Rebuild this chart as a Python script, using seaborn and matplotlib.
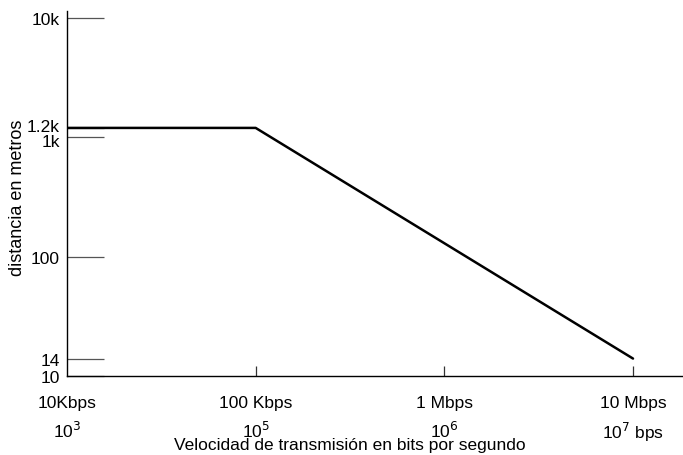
import numpy as np
import pandas as pd
import seaborn as sns
import matplotlib.pyplot as plt
from matplotlib.transforms import ScaledTranslation

sns.set_theme(style='white')
plt.rcParams['font.family'] = ['Liberation Sans', 'DejaVu Sans']

# data
speed_bps = [1e4, 1e5, 1e7]
distance_m = [1200, 1200, 14]

x_ticks = [1e4, 1e5, 1e6, 1e7]
x_tick_labels = ['10Kbps\n10$^3$', '100 Kbps\n10$^5$', '1 Mbps\n10$^6$', '10 Mbps\n10$^7$ bps']
y_ticks = [10, 14, 100, 1000, 1200, 10000]
y_tick_labels = ['10', '14', '100', '1k', '1.2k', '10k']

df = pd.DataFrame({'speed': speed_bps, 'distance': distance_m})

fig = plt.figure(figsize=(6.83, 4.56), dpi=100)
ax = fig.add_axes([67 / 683, 1 - 377 / 456, 1 - 67 / 683, 365 / 456])

sns.lineplot(data=df, x='speed', y='distance', color='black', linewidth=1.8, ax=ax)

ax.set_xscale('log')
ax.set_yscale('log')
ax.set_xlim(1e4, 10 ** 7.265)
ax.set_ylim(10, 10 ** 4.059)
ax.minorticks_off()

ax.set_xticks(x_ticks)
ax.set_xticklabels(x_tick_labels, fontsize=12.5, linespacing=1.55, color='black')
ax.set_yticks(y_ticks)
ax.set_yticklabels(y_tick_labels, fontsize=12.5, color='black')

ax.tick_params(axis='y', direction='in', length=26.6, width=0.9, color='#555555', pad=5, left=True)
ax.tick_params(axis='x', direction='in', length=7.2, width=0.9, color='#333333', pad=14, bottom=True)
ax.xaxis.get_major_ticks()[0].tick1line.set_visible(False)

# nudge the crowded 1k / 1.2k labels apart a little
labels = ax.get_yticklabels()
for lab, dy in zip(labels, [0, 0, 0, -3, 3, 0]):
    lab.set_transform(lab.get_transform() + ScaledTranslation(0, dy / 100, fig.dpi_scale_trans))

for side in ['top', 'right']:
    ax.spines[side].set_visible(False)
for side in ['left', 'bottom']:
    ax.spines[side].set_color('black')
    ax.spines[side].set_linewidth(1.0)

ax.set_xlabel('Velocidad de transmisión en bits por segundo', fontsize=12.5, color='black')
ax.xaxis.set_label_coords(0.459, -0.168)
ax.set_ylabel('distancia en metros', fontsize=13, color='black')
ax.yaxis.set_label_coords(-0.066, 0.49)

fig.savefig('out.png', dpi=100)
